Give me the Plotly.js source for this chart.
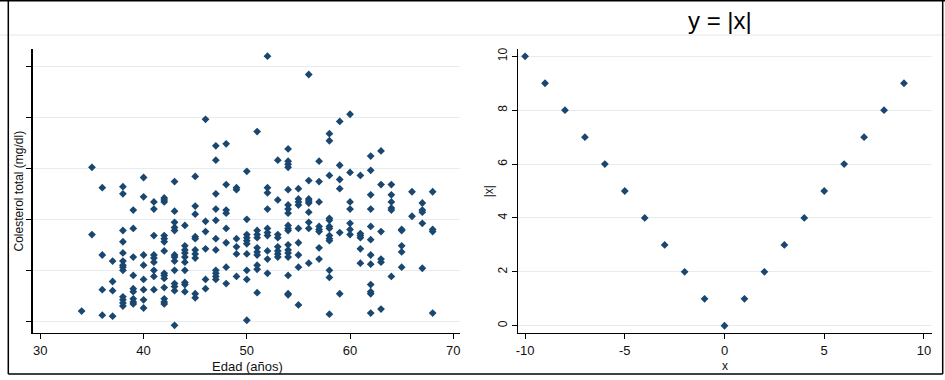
<!DOCTYPE html>
<html>
<head>
<meta charset="utf-8">
<script src="https://cdn.plot.ly/plotly-3.0.1.min.js"></script>
<style>html,body{margin:0;padding:0;background:#fff;}#chart{width:945px;height:380px;}</style>
</head>
<body>
<div id="chart"></div>
<script>
// Left panel: Edad (años) vs Colesterol total (mg/dl)
const edad = [
 34,
 35,35,
 36,36,36,36,
 37,37,37,37,
 38,38,38,38,38,38,38,38,38,38,38,38,38,
 39,39,39,39,39,39,39,39,39,
 40,40,40,40,40,40,40,40,
 41,41,41,41,41,41,41,41,41,
 42,42,42,42,42,42,42,42,42,42,42,42,42,42,
 43,43,43,43,43,43,43,43,43,43,43,43,43,
 44,44,44,44,44,44,44,44,44,44,
 45,45,45,45,45,45,45,45,45,45,
 46,46,46,46,46,46,
 47,47,47,47,47,47,47,47,47,47,47,
 48,48,48,48,48,48,48,48,
 49,49,49,49,49,49,
 50,50,50,50,50,50,50,50,50,50,
 51,51,51,51,51,51,51,51,51,51,
 52,52,52,52,52,52,52,52,52,52,
 53,53,53,53,53,53,53,53,
 54,54,54,54,54,54,54,54,54,54,54,54,54,54,54,54,54,54,
 55,55,55,55,55,55,55,55,55,
 56,56,56,56,56,56,56,56,56,
 57,57,57,57,57,57,57,57,
 58,58,58,58,58,58,58,58,58,58,58,58,58,
 59,59,59,59,59,59,
 60,60,60,60,60,60,60,
 61,61,61,61,61,61,
 62,62,62,62,62,62,62,62,62,62,62,62,
 63,63,63,63,63,63,
 64,64,64,64,64,64,
 65,65,65,65,65,
 66,66,
 67,67,67,67,67,
 68,68,68,68
];
const colesterol = [
 160,
 301,235,
 281,215,181,156,
 209,189,180,155,
 282,275,239,228,217,209,205,203,200,174,171,168,165,
 259,241,213,195,182,179,172,169,167,
 291,272,215,205,191,181,171,163,
 267,260,234,215,212,208,200,194,181,
 271,269,267,234,231,228,219,197,195,192,183,172,169,167,
 287,258,247,242,239,215,213,209,200,187,184,180,146,
 244,224,220,217,213,208,200,188,186,179,
 292,263,255,233,231,220,216,212,177,173,
 348,248,238,221,191,182,
 322,308,275,260,249,231,220,200,197,194,191,
 324,284,259,256,241,227,203,187,
 281,279,231,223,216,194,
 297,250,235,232,229,226,216,200,191,151,
 336,239,235,232,222,218,215,205,201,178,
 410,281,276,260,241,237,234,219,211,197,
 308,269,235,232,223,219,216,213,
 319,307,304,301,279,264,260,256,244,241,239,225,220,217,213,195,177,176,
 280,270,267,264,241,227,215,203,166,
 392,288,270,268,266,257,247,241,207,
 307,287,267,243,240,238,222,211,
 334,327,293,251,249,243,241,234,231,229,200,193,157,
 346,303,289,280,237,177,
 353,296,267,260,246,240,235,
 293,236,234,232,221,207,
 312,298,274,260,243,230,215,206,186,179,177,158,
 317,284,238,211,208,162,
 284,274,267,261,259,194,
 240,239,224,218,203,
 277,253,
 266,259,257,246,202,
 277,240,238,158
];
const colTicks = [150, 200, 250, 300, 350, 400];
const edadTicks = [30, 40, 50, 60, 70];
const edadLabels = ['30', '40', '50', '60', '70'];

// Right panel: y = |x|
const xVals = [-10,-9,-8,-7,-6,-5,-4,-3,-2,-1,0,1,2,3,4,5,6,7,8,9];
const absVals = [10,9,8,7,6,5,4,3,2,1,0,1,2,3,4,5,6,7,8,9];
const xTicks = [-10, -5, 0, 5, 10];
const xLabels = ['-10', '-5', '0', '5', '10'];
const absTicks = [0, 2, 4, 6, 8, 10];
const absLabels = ['0', '2', '4', '6', '8', '10'];

const navy = '#1a476f';
const font = 'Liberation Sans, Arial, sans-serif';
const grid = '#e9ecef';
const W = 945, H = 380;
const fx = p => p / W;
const fy = p => (H - p) / H;

const traces = [
  {x: edad, y: colesterol, type: 'scatter', mode: 'markers', xaxis: 'x', yaxis: 'y',
   marker: {symbol: 'diamond', size: 6, color: navy}, hoverinfo: 'x+y', showlegend: false},
  {x: xVals, y: absVals, type: 'scatter', mode: 'markers', xaxis: 'x2', yaxis: 'y2',
   marker: {symbol: 'diamond', size: 6, color: navy}, hoverinfo: 'x+y', showlegend: false}
];

const axBase = {
  showline: true, linecolor: '#000', linewidth: 1.3, ticks: 'outside', ticklen: 5,
  tickcolor: '#000', tickwidth: 1, zeroline: false, automargin: false,
  tickfont: {family: font, size: 12, color: '#111'}
};

const layout = {
  width: W, height: H,
  margin: {l: 0, r: 0, t: 0, b: 0},
  paper_bgcolor: '#fff', plot_bgcolor: '#fff',
  showlegend: false,
  font: {family: font, color: '#111'},
  xaxis: Object.assign({}, axBase, {
    domain: [fx(32.7), fx(460)], anchor: 'y', range: [29.26, 70.65],
    tickmode: 'array', tickvals: edadTicks, ticktext: edadLabels, showgrid: false,
    tickfont: {family: font, size: 13, color: '#111'}
  }),
  yaxis: Object.assign({}, axBase, {
    domain: [fy(333), fy(49.3)], anchor: 'x', range: [138.5, 416.7],
    tickmode: 'array', tickvals: colTicks, showticklabels: false,
    showgrid: true, gridcolor: grid, gridwidth: 1,
    title: {text: 'Colesterol total (mg/dl)', font: {family: font, size: 12, color: '#111'}, standoff: 0}
  }),
  xaxis2: Object.assign({}, axBase, {
    domain: [fx(518.3), fx(931.7)], anchor: 'y2', range: [-10.34, 10.39],
    tickmode: 'array', tickvals: xTicks, ticktext: xLabels, showgrid: false,
    tickfont: {family: font, size: 13, color: '#111'}
  }),
  yaxis2: Object.assign({}, axBase, {
    domain: [fy(333), fy(49.3)], anchor: 'x2', range: [-0.27, 10.26],
    tickmode: 'array', tickvals: absTicks, ticktext: absLabels, tickangle: -90,
    showgrid: true, gridcolor: grid, gridwidth: 1,
    title: {text: '|x|', font: {family: font, size: 12, color: '#111'}, standoff: 0}
  }),
  annotations: [
    {text: 'y = |x|', xref: 'paper', yref: 'paper', x: fx(720), y: fy(20),
     xanchor: 'center', yanchor: 'middle', showarrow: false,
     font: {family: font, size: 24, color: '#000'}},
    {text: 'Edad (años)', xref: 'paper', yref: 'paper', x: fx(247), y: fy(366),
     xanchor: 'center', yanchor: 'middle', showarrow: false,
     font: {family: font, size: 13, color: '#111'}},
    {text: 'x', xref: 'paper', yref: 'paper', x: fx(725), y: fy(366),
     xanchor: 'center', yanchor: 'middle', showarrow: false,
     font: {family: font, size: 12, color: '#111'}}
  ],
  shapes: [
    {type: 'line', xref: 'paper', yref: 'paper', x0: 0, x1: 1, y0: fy(35), y1: fy(35),
     line: {color: '#e6e6e6', width: 1}},
    {type: 'line', xref: 'paper', yref: 'paper', x0: 0, x1: 1, y0: fy(0.8), y1: fy(0.8),
     line: {color: '#000', width: 1.5}},
    {type: 'line', xref: 'paper', yref: 'paper', x0: fx(8.3), x1: fx(8.3), y0: fy(0), y1: fy(374),
     line: {color: '#000', width: 1.5}},
    {type: 'line', xref: 'paper', yref: 'paper', x0: fx(8.3), x1: fx(942.7), y0: fy(374), y1: fy(374),
     line: {color: '#000', width: 1.5}},
    {type: 'line', xref: 'paper', yref: 'paper', x0: fx(942.7), x1: fx(942.7), y0: fy(0), y1: fy(374),
     line: {color: '#000', width: 1.5}}
  ]
};

Plotly.newPlot('chart', traces, layout, {displayModeBar: false, staticPlot: true});
</script>
</body>
</html>
